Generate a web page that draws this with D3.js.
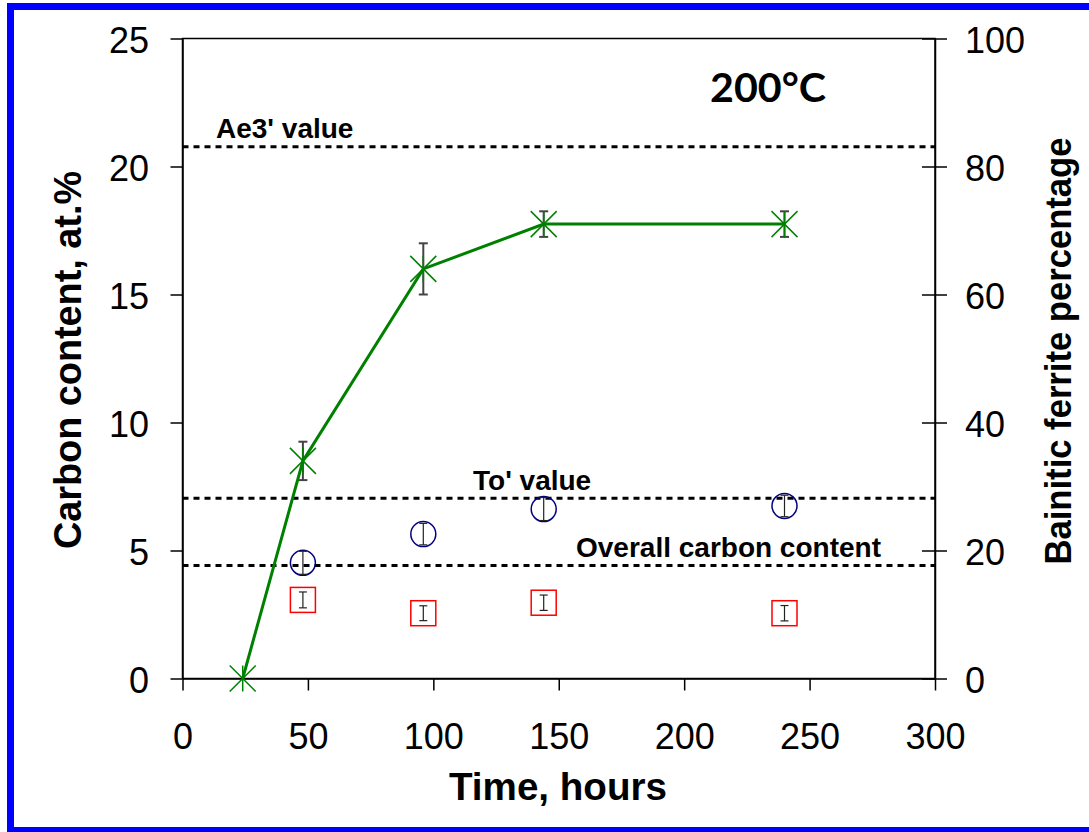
<!DOCTYPE html>
<html>
<head>
<meta charset="utf-8">
<script src="https://cdn.jsdelivr.net/npm/d3@7"></script>
<style>
  html, body { margin: 0; padding: 0; background: #fff; overflow: hidden; }
  svg { display: block; }
  svg text { font-family: "Liberation Sans", Arial, sans-serif; fill: #000; }
</style>
</head>
<body>
<div id="chart"></div>
<script>
// data
const timeTicks = [0, 50, 100, 150, 200, 250, 300];
const carbonTicks = [0, 5, 10, 15, 20, 25];
const ferriteTicks = [0, 20, 40, 60, 80, 100];

const ferriteHours = [24, 48, 96, 144, 240];
const ferritePct = [0, 34, 64, 71, 71];
const ferriteErr = [0, 3, 4, 2, 2];

const carbonHours = [48, 96, 144, 240];
const circleCarbon = [4.52, 5.64, 6.62, 6.74];
const circleErr = [0.45, 0.42, 0.45, 0.42];
const squareCarbon = [3.07, 2.55, 2.96, 2.55];
const squareErr = [0.31, 0.29, 0.3, 0.3];

const refNames = ["Ae3' value", "To' value", "Overall carbon content"];
const refValues = [20.77, 7.04, 4.41];

const W = 1089, H = 832;
const svg = d3.select('#chart').append('svg').attr('width', W).attr('height', H);
svg.append('rect').attr('width', W).attr('height', H).attr('fill', '#fff');

// blue outer frame (runs off the right/bottom edge)
svg.append('rect')
  .attr('x', 10.5).attr('y', 6.5).attr('width', 1100).attr('height', 824)
  .attr('fill', 'none').attr('stroke', '#0000ff').attr('stroke-width', 7);

const plotL = 182.5, plotR = 935, plotT = 38.5, plotB = 678.5;
const x = d3.scaleLinear().domain([0, 300]).range([plotL, plotR]);
const yL = d3.scaleLinear().domain([0, 25]).range([plotB, plotT]);
const yR = d3.scaleLinear().domain([0, 100]).range([plotB, plotT]);

// reference lines
const refLabelX = [216, 473, 576];
refValues.forEach((v, i) => {
  svg.append('line')
    .attr('x1', plotL).attr('x2', plotR).attr('y1', yL(v)).attr('y2', yL(v))
    .attr('stroke', '#000').attr('stroke-width', 3).attr('stroke-dasharray', '6,5');
  svg.append('text')
    .attr('x', refLabelX[i]).attr('y', yL(v) - 8.5)
    .style('font-size', '28px').style('font-weight', 'bold')
    .text(refNames[i]);
});

// plot frame
svg.append('rect')
  .attr('x', plotL).attr('y', plotT).attr('width', plotR - plotL).attr('height', plotB - plotT)
  .attr('fill', 'none').attr('stroke', '#000').attr('stroke-width', 1.5);

// axes
const styleAxis = (g) => {
  g.selectAll('.domain').attr('stroke', '#000').attr('stroke-width', 1.5);
  g.selectAll('.tick line').attr('stroke', '#000').attr('stroke-width', 1.5);
  g.selectAll('.tick text').style('font-size', '36px');
  g.attr('font-family', null);
};

svg.append('g').attr('transform', `translate(${plotL},0)`)
  .call(d3.axisLeft(yL).tickValues(carbonTicks).tickSize(12).tickSizeOuter(0).tickPadding(21.5))
  .call(styleAxis)
  .call((g) => g.selectAll('.tick text').attr('dy', '0.4em'));

svg.append('g').attr('transform', `translate(${plotR},0)`)
  .call(d3.axisRight(yR).tickValues(ferriteTicks).tickSize(12).tickSizeOuter(0).tickPadding(18))
  .call(styleAxis)
  .call((g) => g.selectAll('.tick line').attr('x1', -13))
  .call((g) => g.selectAll('.tick text').attr('dy', '0.4em'));

svg.append('g').attr('transform', `translate(0,${plotB})`)
  .call(d3.axisBottom(x).tickValues(timeTicks).tickSize(12).tickSizeOuter(0).tickPadding(33))
  .call(styleAxis);

// axis titles
svg.append('text')
  .attr('x', 558).attr('y', 800).attr('text-anchor', 'middle')
  .style('font-size', '38px').style('font-weight', 'bold')
  .attr('textLength', 218).attr('lengthAdjust', 'spacingAndGlyphs')
  .text('Time, hours');

svg.append('text')
  .attr('transform', 'translate(81,360) rotate(-90)').attr('text-anchor', 'middle')
  .style('font-size', '38px').style('font-weight', 'bold')
  .attr('textLength', 378).attr('lengthAdjust', 'spacingAndGlyphs')
  .text('Carbon content, at.%');

svg.append('text')
  .attr('transform', 'translate(1071,351) rotate(-90)').attr('text-anchor', 'middle')
  .style('font-size', '36px').style('font-weight', 'bold')
  .attr('textLength', 427).attr('lengthAdjust', 'spacingAndGlyphs')
  .text('Bainitic ferrite percentage');

svg.append('text')
  .attr('x', 710).attr('y', 102)
  .style('font-family', 'Lato, "Open Sans", sans-serif')
  .style('font-size', '40px').style('font-weight', 'bold')
  .attr('textLength', 116).attr('lengthAdjust', 'spacingAndGlyphs')
  .text('200°C');

// error bar helper
function errorBar(cx, y0, y1, color, width, cap) {
  const g = svg.append('g').attr('stroke', color).attr('stroke-width', width);
  g.append('line').attr('x1', cx).attr('x2', cx).attr('y1', y0).attr('y2', y1);
  g.append('line').attr('x1', cx - cap).attr('x2', cx + cap).attr('y1', y0).attr('y2', y0);
  g.append('line').attr('x1', cx - cap).attr('x2', cx + cap).attr('y1', y1).attr('y2', y1);
}

// circles (carbon)
carbonHours.forEach((h, i) => {
  svg.append('circle')
    .attr('cx', x(h)).attr('cy', yL(circleCarbon[i])).attr('r', 12.5)
    .attr('fill', 'none').attr('stroke', '#000080').attr('stroke-width', 1.5);
  errorBar(x(h), yL(circleCarbon[i] + circleErr[i]), yL(circleCarbon[i] - circleErr[i]), '#222', 1.2, 4);
});

// squares (carbon)
carbonHours.forEach((h, i) => {
  svg.append('rect')
    .attr('x', x(h) - 12.5).attr('y', yL(squareCarbon[i]) - 12.5)
    .attr('width', 25).attr('height', 25)
    .attr('fill', 'none').attr('stroke', '#ff0000').attr('stroke-width', 1.5);
  errorBar(x(h), yL(squareCarbon[i] + squareErr[i]), yL(squareCarbon[i] - squareErr[i]), '#222', 1.2, 4);
});

// ferrite series
const ferrite = ferriteHours.map((h, i) => ({ h, v: ferritePct[i], e: ferriteErr[i] }));
ferrite.filter((d) => d.e > 0).forEach((d) => {
  errorBar(x(d.h), yR(d.v + d.e), yR(d.v - d.e), '#444', 2, 4.5);
});

svg.append('path')
  .datum(ferrite)
  .attr('fill', 'none').attr('stroke', '#008000').attr('stroke-width', 3)
  .attr('d', d3.line().x((d) => x(d.h)).y((d) => yR(d.v)));

const s = 13;
ferrite.forEach((d) => {
  const cx = x(d.h), cy = yR(d.v);
  const g = svg.append('g').attr('stroke', '#008000').attr('stroke-width', 1.5);
  g.append('line').attr('x1', cx - s).attr('y1', cy - s).attr('x2', cx + s).attr('y2', cy + s);
  g.append('line').attr('x1', cx - s).attr('y1', cy + s).attr('x2', cx + s).attr('y2', cy - s);
  g.append('line').attr('x1', cx).attr('y1', cy - s).attr('x2', cx).attr('y2', cy + s);
});
</script>
</body>
</html>
